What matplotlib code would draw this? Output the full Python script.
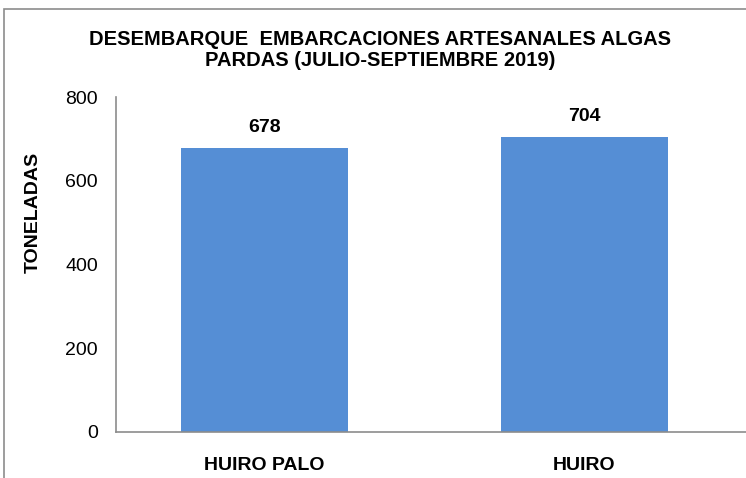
import matplotlib.pyplot as plt
from matplotlib.patches import Rectangle

categories = ["HUIRO PALO", "HUIRO"]
toneladas = [678, 704]
y_ticks = [0, 200, 400, 600, 800]

plt.rcParams["font.family"] = ["Liberation Sans", "DejaVu Sans"]

fig = plt.figure(figsize=(7.46, 4.78), dpi=100)
ax = fig.add_axes([116 / 746, 46 / 478, 640 / 746, 335 / 478])

x = list(range(len(categories)))
bars = ax.bar(x, toneladas, width=0.52, color="#558ED5")
for b, v in zip(bars, toneladas):
    ax.text(b.get_x() + b.get_width() / 2, v + 28, str(v), ha="center", va="bottom",
            fontsize=14, fontweight="bold")

ax.set_xlim(-0.464, 1.536)
ax.set_ylim(0, 800)
ax.set_yticks(y_ticks)
ax.set_xticks(x)
ax.set_xticklabels(categories, fontsize=14, fontweight="bold")
ax.tick_params(axis="y", length=0, labelsize=14, pad=13)
ax.tick_params(axis="x", length=0, pad=18)
for s in ["top", "right"]:
    ax.spines[s].set_visible(False)
for s in ["left", "bottom"]:
    ax.spines[s].set_color("#8c8c8c")
    ax.spines[s].set_linewidth(1.2)

ax.set_ylabel("TONELADAS", fontsize=14, fontweight="bold")
ax.yaxis.set_label_coords(-0.116, 0.654)

fig.text(380 / 746, 1 - 50 / 478,
         "DESEMBARQUE  EMBARCACIONES ARTESANALES ALGAS\nPARDAS (JULIO-SEPTIEMBRE 2019)",
         ha="center", va="center", fontsize=14.5, fontweight="bold", linespacing=1.15)

fig.patches.append(Rectangle((4 / 746, -0.1), 1.2, 1 - 9 / 478 + 0.1, transform=fig.transFigure,
                             fill=False, edgecolor="#8c8c8c", linewidth=1.2))

fig.savefig("out.png", dpi=100)
